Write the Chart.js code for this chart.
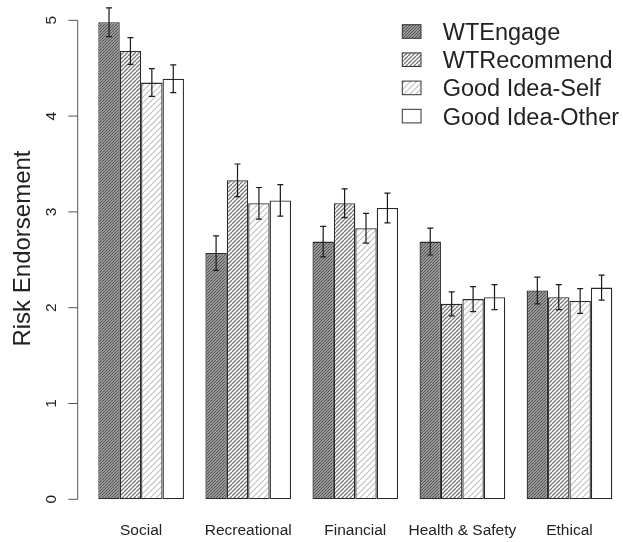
<!DOCTYPE html>
<html>
<head>
<meta charset="utf-8">
<script src="https://cdn.jsdelivr.net/npm/chart.js@4/dist/chart.umd.min.js"></script>
<style>
  html, body { margin: 0; padding: 0; background: #ffffff; }
  #wrap { width: 623px; height: 542px; }
</style>
</head>
<body>
<div id="wrap"><canvas id="chart" width="623" height="542"></canvas></div>
<script>
// Risk domains on the x axis
const categories = ['Social', 'Recreational', 'Financial', 'Health & Safety', 'Ethical'];

// Mean risk endorsement per measure
const wtEngage    = [4.98, 2.57, 2.69, 2.69, 2.18];
const wtRecommend = [4.68, 3.33, 3.09, 2.04, 2.11];
const goodSelf    = [4.35, 3.09, 2.83, 2.09, 2.07];
const goodOther   = [4.39, 3.12, 3.04, 2.11, 2.21];

// Half-widths of the error bars (standard errors)
const wtEngageErr    = [0.15, 0.18, 0.16, 0.14, 0.14];
const wtRecommendErr = [0.14, 0.17, 0.15, 0.125, 0.13];
const goodSelfErr    = [0.145, 0.165, 0.155, 0.13, 0.13];
const goodOtherErr   = [0.145, 0.165, 0.155, 0.13, 0.13];

// Y axis tick values
const yTicks = [0, 1, 2, 3, 4, 5];

const FONT = "'Liberation Sans', Arial, Helvetica, sans-serif";

// Diagonal hatch fill, lines running bottom-left to top-right
function hatch(size, bg, fg, lw) {
  const t = document.createElement('canvas');
  t.width = size; t.height = size;
  const g = t.getContext('2d');
  g.fillStyle = bg;
  g.fillRect(0, 0, size, size);
  g.strokeStyle = fg;
  g.lineWidth = lw;
  g.beginPath();
  for (let k = -1; k <= 1; k++) {
    g.moveTo(k * size, size);
    g.lineTo(k * size + size, 0);
  }
  g.stroke();
  return g.createPattern(t, 'repeat');
}

const fills = [
  hatch(3, '#b0b0b0', '#505050', 1.1),
  hatch(4, '#ffffff', '#787878', 1.3),
  hatch(6, '#ffffff', '#c0c0c0', 1.2),
  '#ffffff'
];

const series = [
  { label: 'WTEngage',        data: wtEngage,    err: wtEngageErr },
  { label: 'WTRecommend',     data: wtRecommend, err: wtRecommendErr },
  { label: 'Good Idea-Self',  data: goodSelf,    err: goodSelfErr },
  { label: 'Good Idea-Other', data: goodOther,   err: goodOtherErr }
];

// Error bars, left axis, category labels and legend
const decorations = {
  id: 'decorations',
  afterDatasetsDraw(chart) {
    const ctx = chart.ctx;
    const y = chart.scales.y;
    const x = chart.scales.x;

    // error bars
    ctx.save();
    ctx.strokeStyle = '#1a1a1a';
    ctx.lineWidth = 1.2;
    chart.data.datasets.forEach((ds, i) => {
      const meta = chart.getDatasetMeta(i);
      meta.data.forEach((el, j) => {
        const v = ds.data[j], e = ds.errors[j];
        const top = y.getPixelForValue(v + e);
        const bot = y.getPixelForValue(v - e);
        ctx.beginPath();
        ctx.moveTo(el.x, top); ctx.lineTo(el.x, bot);
        ctx.moveTo(el.x - 3, top); ctx.lineTo(el.x + 3, top);
        ctx.moveTo(el.x - 3, bot); ctx.lineTo(el.x + 3, bot);
        ctx.stroke();
      });
    });
    ctx.restore();

    // left axis
    const axisX = 77.7;
    ctx.save();
    ctx.strokeStyle = '#555555';
    ctx.lineWidth = 1;
    ctx.beginPath();
    ctx.moveTo(axisX, y.getPixelForValue(yTicks[0]));
    ctx.lineTo(axisX, y.getPixelForValue(yTicks[yTicks.length - 1]));
    yTicks.forEach(t => {
      const py = y.getPixelForValue(t);
      ctx.moveTo(axisX, py); ctx.lineTo(axisX - 9.4, py);
    });
    ctx.stroke();

    ctx.fillStyle = '#222222';
    ctx.font = '15.5px ' + FONT;
    ctx.textAlign = 'center';
    ctx.textBaseline = 'alphabetic';
    yTicks.forEach(t => {
      const py = y.getPixelForValue(t);
      ctx.save();
      ctx.translate(55.5, py);
      ctx.rotate(-Math.PI / 2);
      ctx.fillText(String(t), 0, 0);
      ctx.restore();
    });

    // axis title
    ctx.font = '24px ' + FONT;
    ctx.save();
    ctx.translate(29.5, 248.5);
    ctx.rotate(-Math.PI / 2);
    ctx.fillText('Risk Endorsement', 0, 0);
    ctx.restore();

    // category labels
    ctx.font = '15.5px ' + FONT;
    categories.forEach((c, i) => {
      ctx.fillText(c, x.getPixelForValue(i), 535.3);
    });

    // legend
    ctx.font = '23.5px ' + FONT;
    ctx.textAlign = 'left';
    chart.data.datasets.forEach((ds, i) => {
      const cy = 31.5 + i * 28.2;
      ctx.fillStyle = ds.backgroundColor;
      ctx.fillRect(402.3, cy - 6.8, 18.7, 13.6);
      ctx.strokeStyle = '#333333';
      ctx.lineWidth = 1;
      ctx.strokeRect(402.3, cy - 6.8, 18.7, 13.6);
      ctx.fillStyle = '#222222';
      ctx.fillText(ds.label, 442.7, cy + 8.4);
    });
    ctx.restore();
  }
};

new Chart(document.getElementById('chart'), {
  type: 'bar',
  data: {
    labels: categories,
    datasets: series.map((s, i) => ({
      label: s.label,
      data: s.data,
      errors: s.err,
      backgroundColor: fills[i],
      borderColor: '#2a2a2a',
      borderWidth: 1.3,
      borderSkipped: false,
      categoryPercentage: 0.8,
      barPercentage: 1.0
    }))
  },
  options: {
    responsive: false,
    devicePixelRatio: 1,
    animation: false,
    layout: { padding: { left: 87.6, right: -1, top: 0, bottom: 42.7 } },
    scales: {
      x: { display: false },
      y: { display: false, min: 0, max: 5.212 }
    },
    plugins: {
      legend: { display: false },
      tooltip: { enabled: false }
    }
  },
  plugins: [decorations]
});
</script>
</body>
</html>
